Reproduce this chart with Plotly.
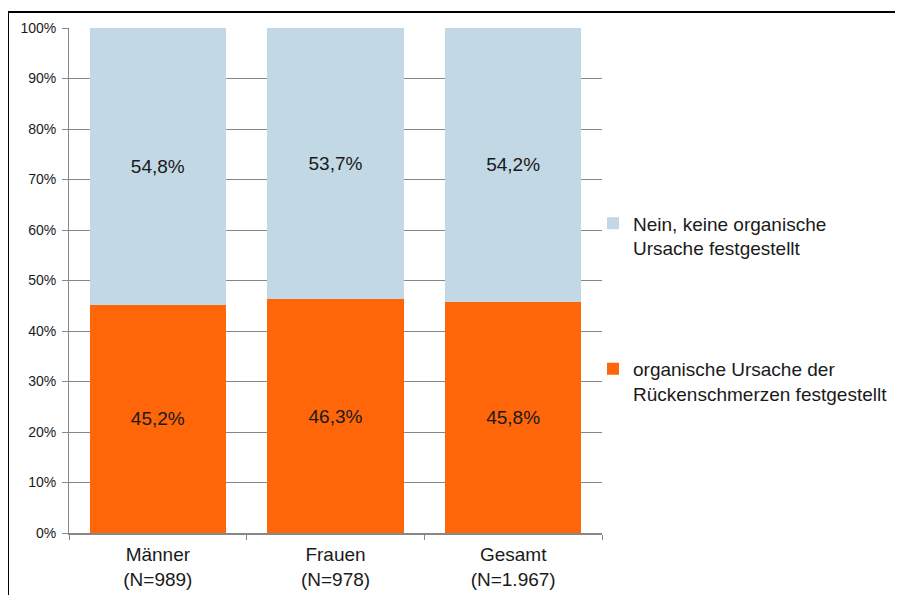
import plotly.graph_objects as go

categories = ["Männer<br>(N=989)", "Frauen<br>(N=978)", "Gesamt<br>(N=1.967)"]
organisch = [45.2, 46.3, 45.8]
nein = [54.8, 53.7, 54.2]
series_names = ["organische Ursache der<br>Rückenschmerzen festgestellt",
                "Nein, keine organische<br>Ursache festgestellt"]
y_ticks = [0, 10, 20, 30, 40, 50, 60, 70, 80, 90, 100]
y_ticklabels = [f"{v}%" for v in y_ticks]


def fmt(v):
    return f"{v:.1f}".replace(".", ",") + "%"


FONT = "Liberation Sans, Arial, sans-serif"
W, H = 895, 587
L, R, T, B = 61, 301, 20, 62
PW, PH = W - L - R, H - T - B

fig = go.Figure()
fig.add_trace(go.Bar(
    x=categories, y=organisch, name=series_names[0],
    marker=dict(color="#FF660A", line=dict(width=0)),
    text=[fmt(v) for v in organisch], textposition="inside",
    insidetextanchor="middle",
    textfont=dict(size=19, color="#1a1a1a", family=FONT),
    legendgroup="a", legendrank=2,
))
fig.add_trace(go.Bar(
    x=categories, y=nein, name=series_names[1],
    marker=dict(color="#C2D9E5", line=dict(width=0)),
    text=[fmt(v) for v in nein], textposition="inside",
    insidetextanchor="middle",
    textfont=dict(size=19, color="#1a1a1a", family=FONT),
    legendgroup="b", legendrank=1,
))

fig.update_layout(
    barmode="stack",
    bargap=0.234,
    width=W, height=H,
    margin=dict(l=L, r=R, t=T, b=B, autoexpand=False),
    paper_bgcolor="white", plot_bgcolor="white",
    font=dict(family=FONT, size=14, color="#1a1a1a"),
    showlegend=True,
    legend=dict(
        xref="container", yref="container",
        x=585 / W, y=1 - 196.5 / H, xanchor="left", yanchor="top",
        font=dict(size=19, family=FONT, color="#1a1a1a"),
        tracegroupgap=93, valign="top",
        itemwidth=30,
        bgcolor="rgba(0,0,0,0)",
    ),
    xaxis=dict(
        showline=True, linecolor="#878787", linewidth=2,
        ticks="outside", tickson="boundaries", ticklen=5, tickcolor="#878787",
        tickfont=dict(size=19, family=FONT, color="#1a1a1a"),
        ticklabelstandoff=3,
        showgrid=False,
    ),
    yaxis=dict(
        range=[0, 100], tickvals=y_ticks, ticktext=y_ticklabels,
        showline=True, linecolor="#878787", linewidth=1,
        ticks="outside", ticklen=6, tickcolor="#878787",
        ticklabelstandoff=3,
        showgrid=True, gridcolor="#878787", gridwidth=1,
        tickfont=dict(size=14, family=FONT, color="#1a1a1a"),
        zeroline=False,
    ),
    shapes=[dict(
        type="rect", xref="paper", yref="paper",
        x0=(0 - L) / PW, x1=3, y0=-1, y1=1 + (T - 4) / PH,
        line=dict(color="black", width=2), fillcolor="rgba(0,0,0,0)",
        layer="below",
    )],
)

fig.write_html("out.html")
